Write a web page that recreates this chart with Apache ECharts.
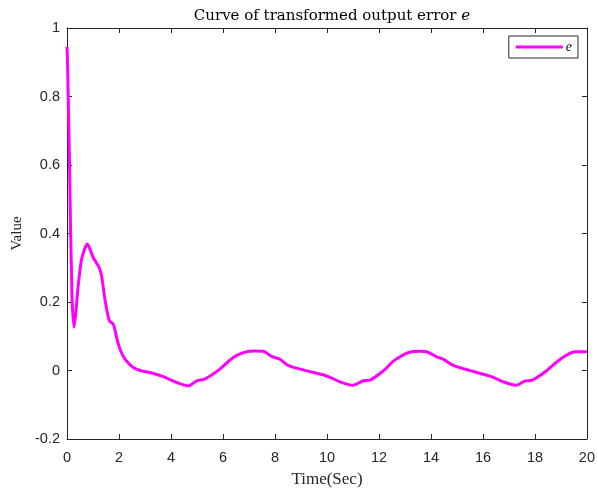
<!DOCTYPE html>
<html><head><meta charset="utf-8">
<script src="https://cdn.jsdelivr.net/npm/echarts@6/dist/echarts.min.js"></script>
<style>html,body{margin:0;padding:0;background:#fff}#c{width:598px;height:495px}</style>
</head><body><div id="c"></div>
<script>
const timeSec = [0, 0.02, 0.09, 0.14, 0.17, 0.2, 0.27, 0.34, 0.43, 0.56, 0.68, 0.78, 0.88, 1.01, 1.24, 1.33, 1.46, 1.63, 1.78, 1.91, 2.04, 2.23, 2.55, 2.87, 3.19, 3.7, 4.22, 4.67, 4.99, 5.3, 5.88, 6.4, 6.91, 7.2, 7.55, 7.87, 8.19, 8.51, 9.22, 9.99, 10.5, 10.99, 11.4, 11.65, 12.17, 12.62, 13.26, 13.6, 13.83, 14.22, 14.47, 14.86, 15.63, 16.33, 16.78, 17.29, 17.6, 17.9, 18.44, 18.89, 19.54, 20];
const errorE = [0.945, 0.9, 0.636, 0.4, 0.3, 0.2, 0.126, 0.17, 0.247, 0.325, 0.355, 0.369, 0.355, 0.33, 0.30, 0.276, 0.208, 0.145, 0.135, 0.096, 0.062, 0.033, 0.009, -0.001, -0.006, -0.018, -0.035, -0.045, -0.030, -0.025, 0.004, 0.038, 0.055, 0.057, 0.056, 0.041, 0.033, 0.015, -0.001, -0.016, -0.033, -0.043, -0.030, -0.028, -0.001, 0.031, 0.055, 0.056, 0.055, 0.040, 0.033, 0.015, -0.003, -0.018, -0.033, -0.043, -0.031, -0.028, -0.001, 0.028, 0.055, 0.055];
const xTicks = {min: 0, max: 20, interval: 2};
const yTicks = {min: -0.2, max: 1, interval: 0.2};

const chart = echarts.init(document.getElementById('c'), null, {renderer: 'canvas'});
const lbl = {color: '#262626', fontFamily: 'Liberation Sans, Arial', fontSize: 14.5};
const axisLineStyle = {show: true, onZero: false, lineStyle: {color: '#262626', width: 1}};
const tickStyle = {show: true, inside: true, length: 5, lineStyle: {color: '#262626', width: 1}};
chart.setOption({
  animation: false,
  backgroundColor: '#fff',
  title: {
    text: 'Curve of transformed output error {i|e}',
    left: 327, top: 4, textAlign: 'center',
    textStyle: {fontFamily: 'DejaVu Serif', fontSize: 15, fontWeight: 'normal', color: '#000',
      rich: {i: {fontFamily: 'DejaVu Serif', fontStyle: 'italic', fontSize: 15, color: '#000'}}}
  },
  legend: {
    right: 20, top: 36,
    orient: 'vertical',
    backgroundColor: '#fff',
    borderColor: '#262626', borderWidth: 1, borderRadius: 0,
    padding: [4, 6, 4, 7],
    itemWidth: 47, itemHeight: 3, itemGap: 0,
    icon: 'rect',
    textStyle: {fontFamily: 'Liberation Serif, Times New Roman', fontStyle: 'italic', fontSize: 14, color: '#000', padding: [0, 0, 0, -2]},
    data: ['e']
  },
  grid: {left: 67, right: 11, top: 28, bottom: 56},
  xAxis: [{
    type: 'value', min: xTicks.min, max: xTicks.max, interval: xTicks.interval,
    name: 'Time(Sec)', nameLocation: 'middle', nameGap: 32,
    nameTextStyle: {fontFamily: 'Liberation Serif, Times New Roman', fontSize: 17, color: '#262626'},
    axisLine: axisLineStyle, axisTick: tickStyle,
    axisLabel: Object.assign({margin: 11}, lbl), splitLine: {show: false}
  }, {
    type: 'value', position: 'top', min: xTicks.min, max: xTicks.max, interval: xTicks.interval,
    axisLine: axisLineStyle, axisTick: tickStyle, axisLabel: {show: false}, splitLine: {show: false}
  }],
  yAxis: [{
    type: 'value', min: yTicks.min, max: yTicks.max, interval: yTicks.interval,
    name: 'Value', nameLocation: 'middle', nameGap: 41,
    nameTextStyle: {fontFamily: 'Liberation Serif, Times New Roman', fontSize: 15, color: '#262626'},
    axisLine: axisLineStyle, axisTick: tickStyle,
    axisLabel: Object.assign({margin: 7, formatter: v => String(Math.round(v * 10) / 10)}, lbl), splitLine: {show: false}
  }, {
    type: 'value', position: 'right', min: yTicks.min, max: yTicks.max, interval: yTicks.interval,
    axisLine: axisLineStyle, axisTick: tickStyle, axisLabel: {show: false}, splitLine: {show: false}
  }],
  series: [{
    name: 'e', type: 'line', smooth: 0.3, showSymbol: false,
    data: timeSec.map((t, i) => [t, errorE[i]]),
    lineStyle: {color: '#FF00FF', width: 3}, itemStyle: {color: '#FF00FF'}
  }]
});
</script></body></html>
